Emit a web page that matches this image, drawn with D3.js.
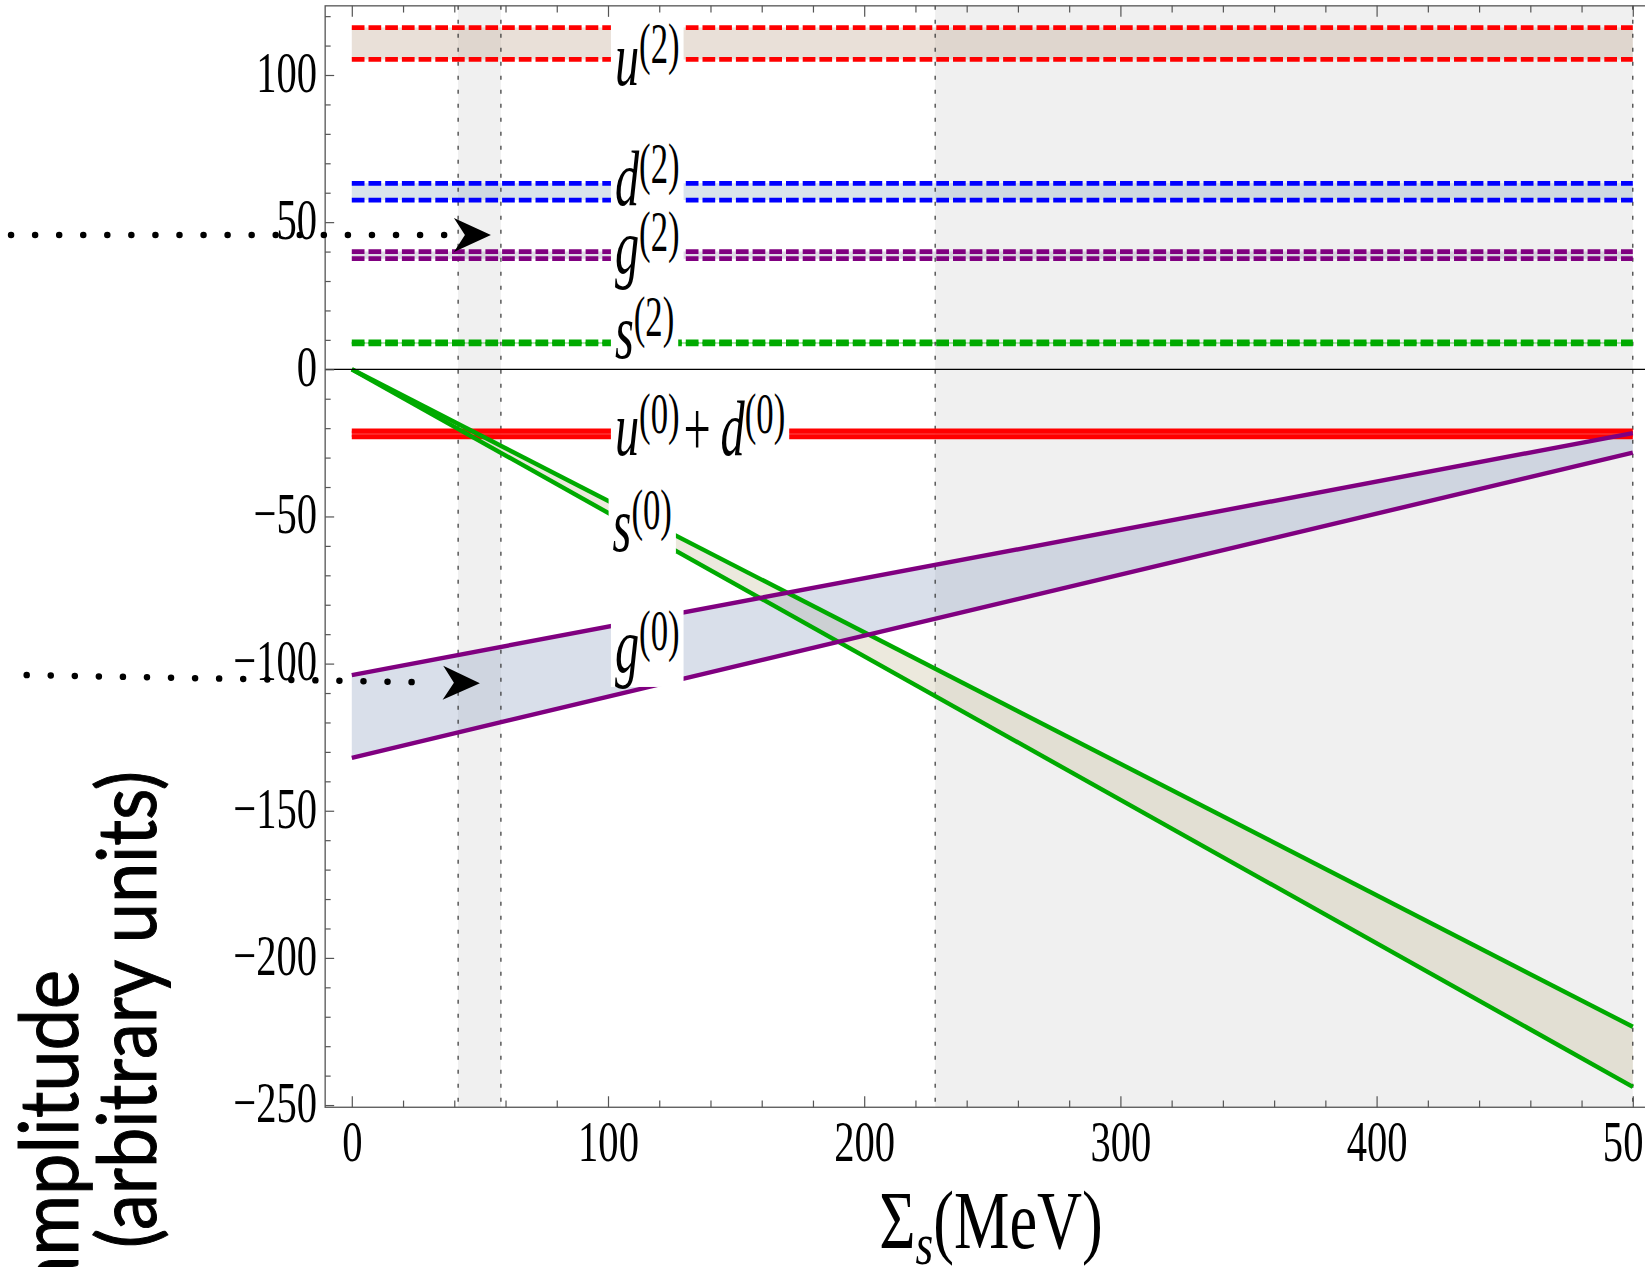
<!DOCTYPE html>
<html><head><meta charset="utf-8">
<script src="https://cdn.jsdelivr.net/npm/d3@7"></script>
<style>html,body{margin:0;padding:0;background:#fff;overflow:hidden}</style>
</head><body>
<svg id="chart" width="1645" height="1267" xmlns="http://www.w3.org/2000/svg"></svg>
<script>
// ---------------- data ----------------
const xTicksMajor = [0, 100, 200, 300, 400, 500];
const yTicksMajor = [-250, -200, -150, -100, -50, 0, 50, 100];
const shadedBands = [[41.5, 58.2], [227.7, 500]];
const xs = [0, 500];
const u2Hi = [116.1, 116.1], u2Lo = [105.3, 105.3];
const d2Hi = [63.2, 63.2],   d2Lo = [57.5, 57.5];
const g2Hi = [40.0, 40.0],   g2Lo = [37.6, 37.6];
const s2Hi = [9.3, 9.3],     s2Lo = [8.6, 8.6];
const ud0Hi = [-20.9, -20.9], ud0Lo = [-23.0, -23.0];
const s0Hi = [0, -223.4],    s0Lo = [0, -243.8];
const g0Hi = [-103.9, -21.7], g0Lo = [-132.0, -28.3];
const labelNames = ["u2", "d2", "g2", "s2", "ud0", "s0", "g0"];
const labelX = [102.7, 102.7, 102.7, 102.7, 102.7, 101.8, 102.7];
const labelY = [96.6, 55.9, 32.7, 3.8, -29.1, -61.7, -102.9];
const arrowStart = [[-133.0, 45.6], [-126.9, -103.9]];
const arrowTip = [[54.3, 45.6], [50.0, -106.7]];
const xTitle = "(MeV)";
const yTitle1 = "amplitude";
const yTitle2 = "(arbitrary units)";

// ---------------- setup ----------------
const svg = d3.select("#chart");
const x = d3.scaleLinear().domain([0, 500]).range([351.8, 1632.8]);
const y = d3.scaleLinear().domain([-250, 100]).range([1105.05, 75.0]);
const frameX = [-10.4, 511], frameY = [-250.75, 123.5];
const fx0 = x(frameX[0]), fx1 = x(frameX[1]), fy0 = y(frameY[1]), fy1 = y(frameY[0]);
const serif = "'Liberation Serif','Times New Roman',Times,serif";

const series = [
  {hi: u2Hi, lo: u2Lo, color: "#ff0000", dash: true, fill: "#bca289", op: 0.33},
  {hi: d2Hi, lo: d2Lo, color: "#0000ff", dash: true, fill: "#8caac5", op: 0.33},
  {hi: g2Hi, lo: g2Lo, color: "#800080", dash: true, fill: "#a18fb4", op: 0.33},
  {hi: s2Hi, lo: s2Lo, color: "#00aa00", dash: true, fill: "#00aa00", op: 0.33},
  {hi: ud0Hi, lo: ud0Lo, color: "#ff0000", dash: false, fill: "#ff0000", op: 0.8},
  {hi: s0Hi, lo: s0Lo, color: "#00aa00", dash: false, fill: "#c5bc98", op: 0.33},
  {hi: g0Hi, lo: g0Lo, color: "#800080", dash: false, fill: "#8c9ebf", op: 0.33}
];
series.forEach(s => s.pts = xs.map((xv, i) => ({x: xv, hi: s.hi[i], lo: s.lo[i]})));

// shaded bands
svg.append("g").selectAll("rect").data(shadedBands).join("rect")
  .attr("x", d => x(d[0])).attr("width", d => x(d[1]) - x(d[0]))
  .attr("y", fy0).attr("height", fy1 - fy0).attr("fill", "#f0f0f0");

// fills
const area = d3.area().x(d => x(d.x)).y0(d => y(d.lo)).y1(d => y(d.hi));
svg.append("g").selectAll("path").data(series).join("path")
  .attr("d", s => area(s.pts)).attr("fill", s => s.fill).attr("fill-opacity", s => s.op);

// band edge dotted lines
const edges = shadedBands.flat();
svg.append("g").selectAll("line").data(edges).join("line")
  .attr("x1", d => x(d)).attr("x2", d => x(d)).attr("y1", fy0).attr("y2", fy1)
  .attr("stroke", "#333").attr("stroke-width", 1.2).attr("stroke-dasharray", "4,10");

// series lines
const lineHi = d3.line().x(d => x(d.x)).y(d => y(d.hi));
const lineLo = d3.line().x(d => x(d.x)).y(d => y(d.lo));
const lg = svg.append("g");
series.forEach(s => {
  [lineLo, lineHi].forEach(fn => {
    lg.append("path").attr("d", fn(s.pts)).attr("fill", "none")
      .attr("stroke", s.color).attr("stroke-width", s.dash ? 4.7 : (s.color === "#ff0000" ? 4.7 : 4.4))
      .attr("stroke-dasharray", s.dash ? "12.7,4" : null);
  });
});

// ---------------- curve labels (white boxes first, then texts) ----------------
const LSX = 0.62, LF = 78, LSUP = 56, LRAISE = 22;
const labelParts = {
  u2: [["u", "i"], ["(2)", "sup"]],
  d2: [["d", "i"], ["(2)", "sup"]],
  g2: [["g", "i"], ["(2)", "sup"]],
  s2: [["s", "i"], ["(2)", "sup"]],
  ud0: [["u", "i"], ["(0)", "sup"], ["\u200A+\u2009", "n"], ["d", "i"], ["(0)", "sup"]],
  s0: [["s", "i"], ["(0)", "sup"]],
  g0: [["g", "i"], ["(0)", "sup"]]
};
const boxLayer = svg.append("g");
const textLayer = svg.append("g");
labelNames.forEach((name, i) => {
  const tr = `translate(${x(labelX[i])},${y(labelY[i])}) scale(${LSX},1)`;
  const t = textLayer.append("text").attr("transform", tr)
    .attr("font-family", serif).attr("font-size", LF).attr("fill", "#000");
  let raised = false;
  labelParts[name].forEach(([txt, kind]) => {
    const ts = t.append("tspan").text(txt);
    if (kind === "sup") { ts.attr("font-size", LSUP).attr("dy", -LRAISE); raised = true; }
    else {
      if (raised) { ts.attr("dy", LRAISE); raised = false; }
      if (kind === "i") ts.attr("font-style", "italic");
    }
  });
  const bb = t.node().getBBox();
  const pad = 4 / LSX;
  const top = -LRAISE - 0.80 * LSUP;
  const hasDesc = /g/.test(name);
  const bottom = hasDesc ? 0.19 * LF : 0.03 * LF;
  boxLayer.append("rect").attr("transform", tr).attr("fill", "#fff")
    .attr("x", bb.x - pad).attr("y", top).attr("width", bb.width + 2 * pad).attr("height", bottom - top);
});

// zero line (runs over the label boxes, below their text)
svg.insert("line", "g:last-child").attr("x1", fx0).attr("x2", fx1).attr("y1", y(0)).attr("y2", y(0))
  .attr("stroke", "#000").attr("stroke-width", 1.3);

// frame + ticks
const frameCol = "#555";
svg.append("rect").attr("x", fx0).attr("y", fy0).attr("width", fx1 - fx0).attr("height", fy1 - fy0)
  .attr("fill", "none").attr("stroke", frameCol).attr("stroke-width", 1.3);

const SX = 0.70, TF = 58;
const xMinor = d3.range(0, 501, 20).filter(v => v % 100 !== 0);
const yMinor = d3.range(-250, 121, 10).filter(v => v % 50 !== 0);
function styleAxis(g) {
  g.select(".domain").remove();
  g.selectAll(".tick line").attr("stroke", frameCol).attr("stroke-width", 1.2);
}
svg.append("g").attr("transform", `translate(0,${fy1})`)
  .call(d3.axisBottom(x).tickValues(xMinor).tickSize(-6.7).tickFormat("")).call(styleAxis);
const xAx = svg.append("g").attr("transform", `translate(0,${fy1})`)
  .call(d3.axisBottom(x).tickValues(xTicksMajor).tickSize(-11).tickPadding(12.5).tickFormat(d3.format("d")))
  .call(styleAxis);
xAx.selectAll("text").attr("font-family", serif).attr("font-size", TF).attr("fill", "#000")
  .attr("transform", `scale(${SX},1)`);
svg.append("g").attr("transform", `translate(0,${fy0})`)
  .call(d3.axisTop(x).tickValues(xMinor).tickSize(-6.7).tickFormat("")).call(styleAxis);
svg.append("g").attr("transform", `translate(0,${fy0})`)
  .call(d3.axisTop(x).tickValues(xTicksMajor).tickSize(-11).tickFormat("")).call(styleAxis);
svg.append("g").attr("transform", `translate(${fx0},0)`)
  .call(d3.axisLeft(y).tickValues(yMinor).tickSize(-5.5).tickFormat("")).call(styleAxis);
const yAx = svg.append("g").attr("transform", `translate(${fx0},0)`)
  .call(d3.axisLeft(y).tickValues(yTicksMajor).tickSize(-9).tickPadding(11.5).tickFormat(d3.format("d")))
  .call(styleAxis);
yAx.selectAll("text").attr("font-family", serif).attr("font-size", TF).attr("fill", "#000")
  .attr("dy", "0.28em").attr("transform", `scale(${SX},1)`);
svg.append("g").attr("transform", `translate(${fx1},0)`)
  .call(d3.axisRight(y).tickValues(yTicksMajor).tickSize(-9).tickFormat("")).call(styleAxis);

// ---------------- axis titles ----------------
const xt = svg.append("text").attr("font-family", serif).attr("font-size", 82).attr("fill", "#000")
  .attr("text-anchor", "middle")
  .attr("transform", `translate(${(fx0 + fx1) / 2 - 2},1248) scale(0.76,1)`);
xt.append("tspan").text("\u03A3");
xt.append("tspan").text("s").attr("font-style", "italic").attr("font-size", 60).attr("dy", 16);
xt.append("tspan").text(xTitle).attr("dy", -16);

const sans = "Lato,'Open Sans','DejaVu Sans',sans-serif";
svg.append("text").attr("font-family", sans).attr("font-size", 74).attr("fill", "#000")
  .attr("stroke", "#000").attr("stroke-width", 0.9)
  .attr("text-anchor", "end").attr("transform", "translate(78,970) rotate(-90) scale(1,1.1)").text(yTitle1);
svg.append("text").attr("font-family", sans).attr("font-size", 72).attr("fill", "#000")
  .attr("stroke", "#000").attr("stroke-width", 0.9)
  .attr("text-anchor", "end").attr("transform", "translate(156,771) rotate(-90) scale(1,1.12)").text(yTitle2);

// ---------------- arrows ----------------
arrowStart.forEach((s, i) => {
  const p0 = [x(s[0]), y(s[1])], tip = [x(arrowTip[i][0]), y(arrowTip[i][1])];
  const dx = tip[0] - p0[0], dy = tip[1] - p0[1], L = Math.hypot(dx, dy);
  const ux = dx / L, uy = dy / L;
  const endL = L - 46;
  svg.append("line").attr("x1", p0[0]).attr("y1", p0[1])
    .attr("x2", p0[0] + ux * endL).attr("y2", p0[1] + uy * endL)
    .attr("stroke", "#000").attr("stroke-width", 6.5).attr("stroke-linecap", "round")
    .attr("stroke-dasharray", "0.01,24.05");
  const ang = Math.atan2(dy, dx) * 180 / Math.PI;
  svg.append("path").attr("d", "M0,0 L-37,-17 L-26,0 L-37,17 Z").attr("fill", "#000")
    .attr("transform", `translate(${tip[0]},${tip[1]}) rotate(${ang})`);
});
</script>
</body></html>
